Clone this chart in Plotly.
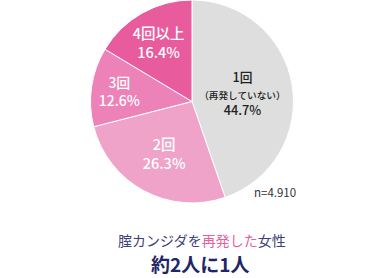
import plotly.graph_objects as go

labels = ["1回", "2回", "3回", "4回以上"]
subtitles = ["（再発していない）", "", "", ""]
values = [44.7, 26.3, 12.6, 16.4]
colors = ["#dedede", "#f0a3c9", "#ec82b7", "#e85b9d"]
text_colors = ["#222222", "#ffffff", "#ffffff", "#ffffff"]
sample_note = "n=4.910"
caption_parts = ["腟カンジダを", "再発した", "女性"]
headline = "約2人に1人"

texts = []
for lab, sub, v in zip(labels, subtitles, values):
    if sub:
        texts.append(f"{lab}<br><span style='font-size:11px'>{sub}</span><br>{v:.1f}%")
    else:
        texts.append(f"{lab}<br>{v:.1f}%")

fig = go.Figure(go.Pie(
    labels=labels,
    values=values,
    text=texts,
    texttemplate="%{text}",
    textposition="inside",
    insidetextorientation="horizontal",
    sort=False,
    direction="clockwise",
    rotation=0,
    marker=dict(colors=colors, line=dict(color="#ffffff", width=1)),
    textfont=dict(family="Noto Sans CJK JP", size=14.5, color=text_colors, weight=500),
    hoverinfo="skip",
    showlegend=False,
    domain=dict(x=[0.232, 0.768], y=[0.270, 1.0]),
))

fig.add_annotation(text=sample_note, x=0.715, y=0.31, xref="paper", yref="paper",
                   xanchor="center", yanchor="middle", showarrow=False,
                   font=dict(family="Noto Sans CJK JP", size=11.5, color="#333333"))
fig.add_annotation(
    text=f"<span style='color:#3d4177'>{caption_parts[0]}</span><span style='color:#e8609f'>{caption_parts[1]}</span><span style='color:#3d4177'>{caption_parts[2]}</span>",
    x=0.526, y=0.138, xref="paper", yref="paper", xanchor="center", yanchor="middle",
    showarrow=False, font=dict(family="Noto Sans CJK JP", size=14))
fig.add_annotation(text=f"<b>{headline}</b>", x=0.522, y=0.0, xref="paper", yref="paper",
                   xanchor="center", yanchor="bottom", showarrow=False, borderpad=0,
                   font=dict(family="Noto Sans CJK JP", size=19, color="#1f2668"))

fig.update_layout(width=384, height=278, margin=dict(l=0, r=0, t=0, b=0),
                  paper_bgcolor="#ffffff", plot_bgcolor="#ffffff")
fig.write_html("out.html")
